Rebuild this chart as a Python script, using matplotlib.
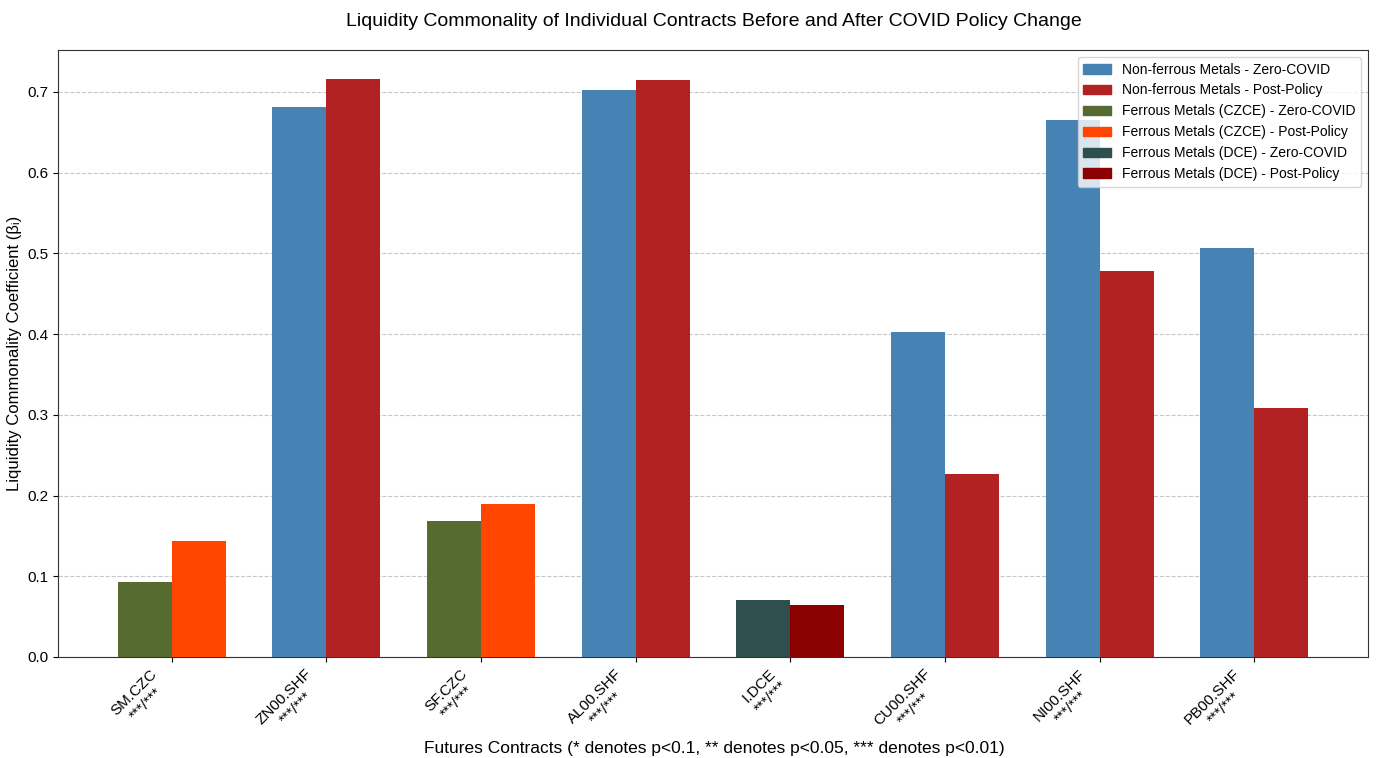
import matplotlib
matplotlib.use("Agg")
import matplotlib.pyplot as plt
import numpy as np
from matplotlib.patches import Patch

plt.rcParams['font.family'] = ['Liberation Sans', 'DejaVu Sans']

contracts = ["SM.CZC", "ZN00.SHF", "SF.CZC", "AL00.SHF", "I.DCE", "CU00.SHF", "NI00.SHF", "PB00.SHF"]
significance = ["***/***"] * 8
groups = ["czce", "nonferrous", "czce", "nonferrous", "dce", "nonferrous", "nonferrous", "nonferrous"]
zero_covid = [0.093, 0.681, 0.169, 0.702, 0.071, 0.402, 0.665, 0.506]
post_policy = [0.144, 0.716, 0.190, 0.715, 0.064, 0.227, 0.478, 0.309]

group_colors = {
    "nonferrous": ("#4682B4", "#B22222"),
    "czce": ("#556B2F", "#FF4500"),
    "dce": ("#2F4F4F", "#8B0000"),
}
legend_labels = [
    ("Non-ferrous Metals - Zero-COVID", "#4682B4"),
    ("Non-ferrous Metals - Post-Policy", "#B22222"),
    ("Ferrous Metals (CZCE) - Zero-COVID", "#556B2F"),
    ("Ferrous Metals (CZCE) - Post-Policy", "#FF4500"),
    ("Ferrous Metals (DCE) - Zero-COVID", "#2F4F4F"),
    ("Ferrous Metals (DCE) - Post-Policy", "#8B0000"),
]

fig = plt.figure(figsize=(13.76, 7.58), dpi=100)
ax = fig.add_axes([58/1376, 1-657/758, (1368-58)/1376, (657-50)/758])

x = np.arange(len(contracts))
w = 0.35
c0 = [group_colors[g][0] for g in groups]
c1 = [group_colors[g][1] for g in groups]
ax.bar(x - w/2, zero_covid, w, color=c0, zorder=3)
ax.bar(x + w/2, post_policy, w, color=c1, zorder=3)

ax.set_xticks(x)
ax.set_xticklabels([f"{c}\n{s}" for c, s in zip(contracts, significance)],
                   rotation=45, ha='right', fontsize=11, multialignment='center')
ax.tick_params(axis='y', labelsize=11)
ax.yaxis.grid(True, linestyle='--', alpha=0.7, zorder=0)
ax.set_axisbelow(True)
for s in ax.spines.values():
    s.set_color('#333333')

ax.set_ylabel("Liquidity Commonality Coefficient (β\u1d62)", fontsize=12)
fig.text(714/1376, 1-748/758, "Futures Contracts (* denotes p<0.1, ** denotes p<0.05, *** denotes p<0.01)",
         fontsize=12.5, ha='center', va='center')
fig.text(714/1376, 1-22/758, "Liquidity Commonality of Individual Contracts Before and After COVID Policy Change",
         fontsize=14, ha='center', va='center')

handles = [Patch(color=c, label=l) for l, c in legend_labels]
ax.legend(handles=handles, loc='upper right', fontsize=10)

fig.savefig("out.png", dpi=100)
